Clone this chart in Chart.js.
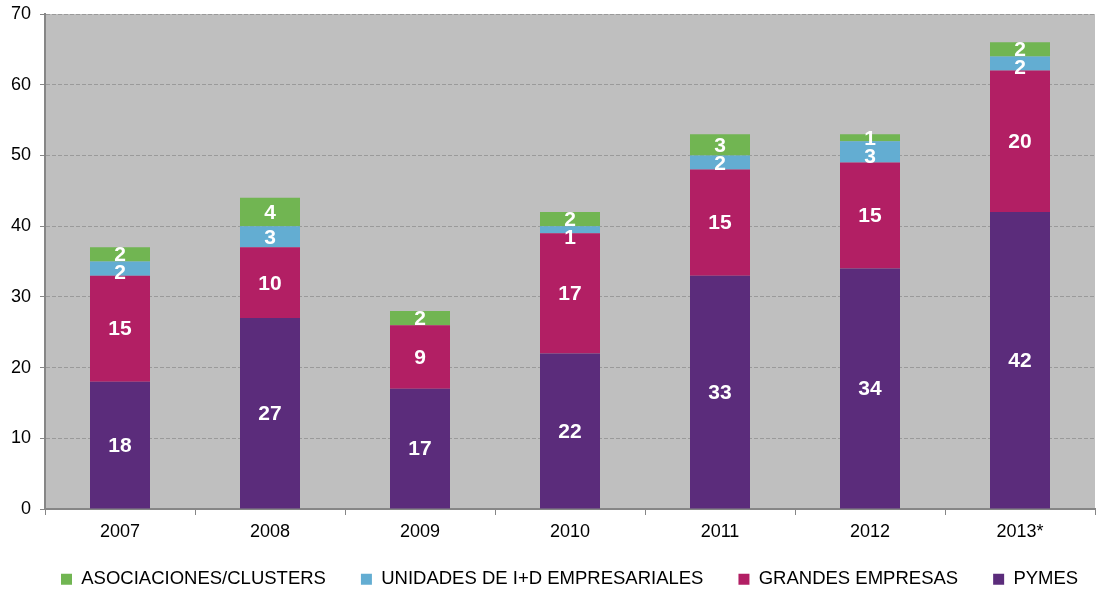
<!DOCTYPE html>
<html>
<head>
<meta charset="utf-8">
<script src="https://cdn.jsdelivr.net/npm/chart.js@4/dist/chart.umd.min.js"></script>
<style>
  html, body { margin: 0; padding: 0; background: #ffffff; }
  #wrap { width: 1096px; height: 590px; }
</style>
</head>
<body>
<div id="wrap"><canvas id="chart" width="1096" height="590"></canvas></div>
<script>
// datos del gráfico
const years = ['2007', '2008', '2009', '2010', '2011', '2012', '2013*'];
const pymes = [18, 27, 17, 22, 33, 34, 42];
const grandesEmpresas = [15, 10, 9, 17, 15, 15, 20];
const unidadesID = [2, 3, 0, 1, 2, 3, 2];
const asociaciones = [2, 4, 2, 2, 3, 1, 2];
const yTicks = [0, 10, 20, 30, 40, 50, 60, 70];

const FONT = "'Liberation Sans', Arial, sans-serif";

// fondo gris del área de trazado
const plotBackground = {
    id: 'plotBackground',
    beforeDraw(chart) {
        const a = chart.chartArea;
        const ctx = chart.ctx;
        ctx.save();
        ctx.fillStyle = '#bfbfbf';
        ctx.fillRect(a.left, a.top, a.right - a.left, a.bottom - a.top);
        ctx.restore();
    }
};

// mover la leyenda un poco (como en Excel)
const legendNudge = {
    id: 'legendNudge',
    afterLayout(chart) {
        const lg = chart.legend;
        if (!lg) return;
        lg.left += 26;
        lg.right += 26;
        lg.top -= 10;
        lg.height += 10;
    }
};

// etiquetas blancas dentro de cada segmento
const segmentLabels = {
    id: 'segmentLabels',
    afterDatasetsDraw(chart) {
        const ctx = chart.ctx;
        ctx.save();
        ctx.fillStyle = '#ffffff';
        ctx.font = 'bold 21px ' + FONT;
        ctx.textAlign = 'center';
        ctx.textBaseline = 'middle';
        chart.data.labels.forEach((lbl, i) => {
            let prevY = -Infinity;
            // de arriba hacia abajo para evitar solapes
            for (let d = chart.data.datasets.length - 1; d >= 0; d--) {
                const v = chart.data.datasets[d].data[i];
                if (!v) continue;
                const bar = chart.getDatasetMeta(d).data[i];
                let y = (bar.y + bar.base) / 2;
                if (y - prevY < 18) y = prevY + 18;
                prevY = y;
                ctx.fillText(String(v), bar.x, y + 1);
            }
        });
        ctx.restore();
    }
};

new Chart(document.getElementById('chart'), {
    type: 'bar',
    data: {
        labels: years,
        datasets: [
            { label: 'PYMES', data: pymes, backgroundColor: '#5b2c7b' },
            { label: 'GRANDES EMPRESAS', data: grandesEmpresas, backgroundColor: '#b21f64' },
            { label: 'UNIDADES DE I+D EMPRESARIALES', data: unidadesID, backgroundColor: '#63add2' },
            { label: 'ASOCIACIONES/CLUSTERS', data: asociaciones, backgroundColor: '#71b552' }
        ]
    },
    options: {
        responsive: false,
        animation: false,
        layout: { padding: { top: 14, left: 0, right: 1, bottom: 0 } },
        datasets: {
            bar: { barPercentage: 0.4, categoryPercentage: 1 }
        },
        scales: {
            x: {
                stacked: true,
                afterFit(scale) { scale.height = 36; },
                grid: {
                    display: true,
                    offset: true,
                    drawOnChartArea: false,
                    drawTicks: true,
                    tickLength: 6,
                    color: '#868686',
                    tickColor: '#868686'
                },
                border: { display: true, color: '#868686', width: 2 },
                ticks: {
                    color: '#000000',
                    padding: 6,
                    font: { family: FONT, size: 18 }
                }
            },
            y: {
                stacked: true,
                min: 0,
                max: 70,
                afterFit(scale) {
                    scale.width = 45;
                    scale.paddingTop = 0;
                    scale.paddingBottom = 0;
                },
                afterBuildTicks(scale) {
                    scale.ticks = yTicks.map(v => ({ value: v }));
                },
                grid: {
                    color: '#9a9a9a',
                    lineWidth: 1,
                    drawTicks: true,
                    tickLength: 5,
                    tickColor: '#868686',
                    tickBorderDash: []
                },
                border: { display: true, color: '#868686', width: 2, dash: [4, 2] },
                ticks: {
                    color: '#000000',
                    padding: 9,
                    font: { family: FONT, size: 18 }
                }
            }
        },
        plugins: {
            legend: {
                position: 'bottom',
                align: 'start',
                reverse: true,
                maxHeight: 45,
                labels: {
                    boxWidth: 11,
                    boxHeight: 11,
                    padding: 35,
                    color: '#000000',
                    font: { family: FONT, size: 18.5 }
                }
            },
            tooltip: { enabled: false },
            title: { display: false }
        }
    },
    plugins: [plotBackground, legendNudge, segmentLabels]
});
</script>
</body>
</html>
